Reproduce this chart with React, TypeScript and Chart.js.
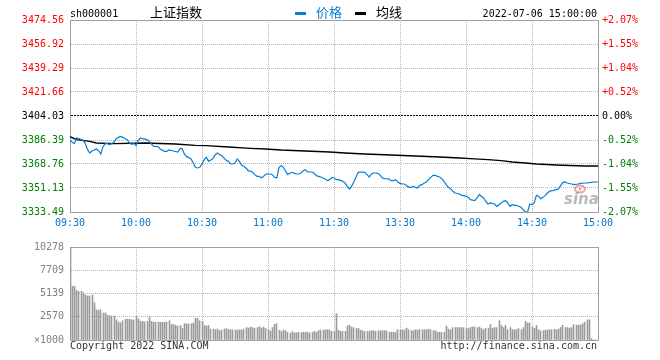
import { useEffect, useRef } from "react";
import { Chart, registerables } from "chart.js";
Chart.register(...registerables);

// ---------- data ----------
const priceTicks = [3333.49, 3351.13, 3368.76, 3386.39, 3404.03, 3421.66, 3439.29, 3456.92, 3474.56];
const pctLabels = ["-2.07%", "-1.55%", "-1.04%", "-0.52%", "0.00%", "+0.52%", "+1.04%", "+1.55%", "+2.07%"];
const timeTicks = [0, 30, 60, 90, 120, 150, 180, 210, 240];
const timeLabels = ["09:30", "10:00", "10:30", "11:00", "11:30", "13:30", "14:00", "14:30", "15:00"];

const priceMinutes = [
  0, 2, 3, 4, 6, 7, 8, 9, 10, 12, 13, 14, 15, 16, 17, 18, 19, 20, 21, 22, 23, 24, 26, 27, 28, 29, 30, 31, 32, 33, 35, 36, 37, 38, 40,
  41, 43, 44, 45, 47, 49, 50, 51, 52, 53, 55, 56, 57, 58, 59, 60, 61, 62, 63, 65, 66, 67, 68, 69, 70, 71, 72, 73, 74, 75, 76, 77,
  78, 79, 80, 81, 83, 84, 85, 86, 87, 88, 89, 90, 91, 92, 93, 94, 95, 96, 97, 98, 99, 100, 101, 102, 103, 104, 105, 106, 107, 108,
  109, 110, 111, 112, 113, 114, 115, 116, 117, 118, 119, 120,
  121, 122, 123, 124, 125, 126, 127, 128, 129, 130, 131, 133, 134, 135, 136, 137, 138, 139, 140, 141, 142, 143, 145, 146, 147, 148,
  149, 150, 151, 152, 153, 154, 155, 156, 157, 158, 159, 160, 161, 162, 163, 164, 165, 166, 167, 168, 169, 170, 171, 172, 173, 174,
  175, 177, 178, 179, 180, 181, 182, 184, 185, 186, 187, 188, 189, 190, 191, 193, 194, 195, 196, 197, 198, 199, 200, 201, 202, 203,
  205, 206, 207, 208, 209, 210, 211, 212, 213, 214, 215, 216, 217, 218, 219, 220, 221, 222, 223, 224, 225, 226, 228, 229, 231, 232,
  234, 235, 237, 238, 240,
];
const priceValues = [
  3385.9, 3383.7, 3387.86, 3387.37, 3386.15, 3383.45, 3379.29, 3376.84, 3378.31, 3379.78, 3378.56, 3376.11, 3381.49, 3383.7, 3383.7,
  3382.96, 3383.7, 3384.92, 3387.37, 3388.35, 3389.08, 3388.35, 3386.64, 3384.19, 3383.21, 3383.94, 3382.23, 3386.15, 3387.86,
  3387.37, 3386.64, 3385.41, 3383.45, 3381.74, 3381.49, 3379.78, 3378.07, 3378.07, 3379.05, 3378.31, 3377.58, 3380.02, 3380.02,
  3376.11, 3374.15, 3372.68, 3369.5, 3366.31, 3365.82, 3366.31, 3368.76, 3371.94, 3373.66, 3370.72, 3372.68, 3375.62, 3376.84,
  3375.62, 3374.88, 3373.17, 3371.45, 3370.72, 3368.76, 3368.76, 3369.5, 3372.43, 3370.72, 3367.78, 3367.05, 3365.82, 3363.86,
  3362.88, 3360.93, 3359.7, 3359.7, 3358.48, 3359.7, 3361.42, 3361.42, 3361.42, 3360.93, 3358.97, 3358.48, 3366.31, 3367.54,
  3366.31, 3363.37, 3360.93, 3362.15, 3362.64, 3361.9, 3361.42, 3361.42, 3362.15, 3363.86, 3364.6, 3362.88, 3362.88, 3362.88,
  3361.9, 3360.19, 3359.7, 3359.21, 3358.48, 3357.74, 3356.52, 3357.25, 3358.97, 3358.48,
  3357.25, 3357.25, 3356.76, 3356.03, 3354.8, 3352.36, 3350.4, 3352.36, 3355.54, 3358.97, 3362.64, 3362.88, 3362.64, 3360.93,
  3359.21, 3361.42, 3362.15, 3362.15, 3361.9, 3360.44, 3358.48, 3357.99, 3357.74, 3356.52, 3356.52, 3357.25, 3355.54, 3354.56,
  3354.07, 3354.07, 3352.85, 3351.62, 3351.62, 3352.36, 3351.62, 3351.13, 3353.09, 3353.58, 3354.8, 3355.54, 3357.25, 3358.97,
  3360.44, 3360.44, 3359.7, 3359.21, 3357.99, 3356.03, 3353.58, 3351.62, 3350.64, 3348.68, 3347.46, 3346.72, 3345.74, 3345.5,
  3345.01, 3344.27, 3342.56, 3341.83, 3343.79, 3346.23, 3345.01, 3343.79, 3341.34, 3339.38, 3340.11, 3339.38, 3337.66, 3338.89,
  3340.11, 3341.34, 3341.83, 3340.11, 3337.66, 3338.89, 3338.4, 3338.4, 3336.93, 3335.22, 3333.5, 3333.5, 3339.38, 3338.89,
  3340.11, 3345.74, 3345.01, 3343.3, 3344.27, 3345.74, 3347.46, 3348.68, 3349.17, 3349.42, 3349.91, 3350.4, 3352.85, 3355.29,
  3355.54, 3354.8, 3354.07, 3353.58, 3354.07, 3354.56, 3354.8, 3354.8, 3355.29, 3355.54, 3355.54,
];

const avgMinutes = [0, 3, 9, 12, 20, 34, 48, 57, 62, 72, 82, 89, 96, 107, 118, 125, 134, 146, 157, 168, 177, 184, 190, 196, 201, 207, 212, 221, 234, 240];
const avgValues = [
  3388.84, 3386.64, 3385.41, 3384.19, 3383.7, 3384.19, 3383.45, 3382.47, 3382.23, 3381.25, 3380.27, 3379.78, 3379.05, 3378.31,
  3377.58, 3376.84, 3376.11, 3375.37, 3374.64, 3373.9, 3373.17, 3372.55, 3371.94, 3371.21, 3370.23, 3369.5, 3368.76, 3368.03,
  3367.29, 3367.29,
];

const volumes = [
  10278, 5927, 5927, 5482, 5379, 5379, 5208, 4968, 4865, 4865, 4968, 4111, 3323, 3323, 3323, 2981, 2981, 2741, 2672, 2672, 2638,
  2227, 1987, 1884, 2124, 2295, 2295, 2295, 2227, 2227, 2570, 2330, 2056, 2056, 1987, 2056, 2535, 2056, 1987, 1953, 1987, 1953,
  1953, 1953, 1987, 2124, 1713, 1713, 1610, 1542, 1610, 1268, 1816, 1782, 1782, 1782, 1884, 2398, 2398, 2124, 2056, 1610, 1542,
  1610, 1199, 1199, 1131, 1199, 1028, 1096, 1199, 1268, 1131, 1131, 1131, 1096, 1096, 1131, 1096, 1199, 1370, 1302, 1439, 1370,
  1302, 1370, 1473, 1302, 1439, 1268, 1199, 959, 1370, 1713, 1816, 1096, 925, 1096, 1028, 857, 754, 925, 788, 788, 857, 822, 857,
  857, 857, 788, 857, 959, 857, 1028, 1096, 1096, 1131, 1131, 1096, 959, 959, 2912, 1096, 959, 959, 959, 1542, 1645, 1439, 1370,
  1268, 1268, 1096, 1028, 959, 959, 959, 1028, 1028, 959, 1028, 1028, 1028, 1028, 1028, 857, 857, 857, 857, 1131, 1131, 1096,
  1096, 1302, 1131, 1028, 1028, 1131, 1096, 1131, 1131, 1131, 1131, 1199, 1131, 1028, 1028, 857, 857, 857, 857, 1542, 1199, 1096,
  1370, 1370, 1370, 1370, 1370, 1370, 1268, 1268, 1370, 1439, 1439, 1370, 1439, 1268, 1131, 1302, 1302, 1713, 1268, 1370, 1370,
  2124, 1610, 1370, 1610, 1131, 1370, 1131, 1131, 1131, 1268, 1131, 1370, 2056, 1884, 1884, 1439, 1302, 1610, 1131, 1028, 1028,
  1096, 1096, 1131, 1131, 1199, 1131, 1199, 1370, 1610, 1370, 1370, 1302, 1370, 1713, 1645, 1645, 1645, 1782, 1987, 2227, 2227,
  171, 0, 0, 0,
];
const volTicks = [0, 2570, 5139, 7709, 10278];
const volTickLabels = ["\u00d71000", "2570", "5139", "7709", "10278"];

// ---------- styles ----------
const MONO = '"DejaVu Sans Mono", "Liberation Mono", monospace';
const CJK = '"Noto Sans CJK SC", "Noto Sans", sans-serif';
const RED = "#ff0000";
const GREEN = "#008000";
const LINE_BLUE = "#0a7dd4";
const TEXT_BLUE = "#0876cc";
const AXIS = "#a0a0a0";
const GRID = "#b4b4b4";
const CLEAR = "rgba(0,0,0,0)";

const levelColor = (i: number) => (i < 4 ? GREEN : i === 4 ? "#000000" : RED);

const headerPlugin = {
  id: "header",
  beforeDatasetsDraw(chart: any) {
    const c = chart.ctx;
    c.save();
    // watermark
    c.globalAlpha = 0.5;
    c.strokeStyle = "#e04848";
    c.lineWidth = 2;
    c.beginPath();
    c.ellipse(580, 189, 5, 3.5, 0, 0, Math.PI * 2);
    c.stroke();
    c.fillStyle = "#e04848";
    c.beginPath();
    c.arc(580, 189, 1.5, 0, Math.PI * 2);
    c.fill();
    c.globalAlpha = 0.6;
    c.fillStyle = "#8a8a8a";
    c.font = 'italic bold 15px "DejaVu Sans", sans-serif';
    c.textAlign = "left";
    c.textBaseline = "alphabetic";
    c.fillText("sina", 564, 204);
    c.restore();
  },
  afterDraw(chart: any) {
    const c = chart.ctx;
    c.save();
    c.textBaseline = "alphabetic";
    c.textAlign = "left";
    c.fillStyle = "#000";
    c.font = `10px ${MONO}`;
    c.fillText("sh000001", 70, 17);
    c.font = `13px ${CJK}`;
    c.fillText("上证指数", 150, 17);
    c.fillStyle = LINE_BLUE;
    c.fillRect(295, 12, 11, 3);
    c.fillText("价格", 316, 17);
    c.fillStyle = "#000";
    c.fillRect(355, 12, 11, 3);
    c.fillText("均线", 376, 17);
    c.font = `10px ${MONO}`;
    c.textAlign = "right";
    c.fillText("2022-07-06 15:00:00", 597, 17);
    c.restore();
  },
};

const footerPlugin = {
  id: "footer",
  beforeDatasetsDraw(chart: any) {
    const meta = chart.getDatasetMeta(0);
    meta.data.forEach((el: any) => {
      el.x = Math.floor(el.x) + 0.5;
    });
  },
  afterDraw(chart: any) {
    const c = chart.ctx;
    c.save();
    c.textBaseline = "alphabetic";
    c.fillStyle = "#333";
    c.font = `10px ${MONO}`;
    c.textAlign = "left";
    c.fillText("Copyright 2022 SINA.COM", 70, 114);
    c.textAlign = "right";
    c.fillText("http://finance.sina.com.cn", 597, 114);
    c.restore();
  },
};

export default function App() {
  const mainRef = useRef<HTMLCanvasElement>(null);
  const volRef = useRef<HTMLCanvasElement>(null);

  useEffect(() => {
    const font = { family: MONO, size: 10 };
    const main = new Chart(mainRef.current!, {
      type: "line",
      data: {
        datasets: [
          {
            data: priceMinutes.map((m, i) => ({ x: m, y: priceValues[i] })),
            borderColor: LINE_BLUE,
            borderWidth: 1.2,
            pointRadius: 0,
            tension: 0,
            yAxisID: "y",
          },
          {
            data: avgMinutes.map((m, i) => ({ x: m, y: avgValues[i] })),
            borderColor: "#000000",
            borderWidth: 1.4,
            pointRadius: 0,
            tension: 0,
            yAxisID: "y",
          },
        ],
      },
      options: {
        animation: false,
        responsive: false,
        maintainAspectRatio: false,
        events: [],
        layout: { padding: { top: 20, left: 0, right: 0, bottom: 0 } },
        plugins: { legend: { display: false }, tooltip: { enabled: false } },
        scales: {
          x: {
            type: "linear",
            min: 0,
            max: 240,
            afterFit: (s: any) => {
              s.height = 23;
            },
            afterBuildTicks: (s: any) => {
              s.ticks = timeTicks.map((v) => ({ value: v }));
            },
            ticks: {
              autoSkip: false,
              maxRotation: 0,
              padding: 5,
              color: TEXT_BLUE,
              font,
              callback: (_v: any, i: number) => timeLabels[i],
            },
            grid: {
              drawTicks: false,
              lineWidth: 1,
              color: (ctx: any) => (ctx.index === 0 || ctx.index === 8 ? CLEAR : GRID),
            },
            border: { display: true, color: AXIS, width: 1, dash: [1, 1] },
          },
          y: {
            type: "linear",
            position: "left",
            min: priceTicks[0],
            max: priceTicks[8],
            afterFit: (s: any) => {
              s.width = 70;
            },
            afterBuildTicks: (s: any) => {
              s.ticks = priceTicks.map((v) => ({ value: v }));
            },
            ticks: {
              autoSkip: false,
              padding: 6,
              font,
              color: (ctx: any) => levelColor(ctx.index),
              callback: (_v: any, i: number) => priceTicks[i].toFixed(2),
            },
            grid: {
              drawTicks: false,
              lineWidth: 1,
              color: (ctx: any) =>
                ctx.index === 4 ? "#000000" : ctx.index === 8 ? AXIS : ctx.index === 0 ? CLEAR : GRID,
            },
            border: {
              display: true,
              color: AXIS,
              width: 1,
              dash: (ctx: any) => (ctx.index === 4 ? [2, 1] : ctx.index === 8 ? [] : [1, 1]),
            },
          },
          y1: {
            type: "linear",
            position: "right",
            min: priceTicks[0],
            max: priceTicks[8],
            afterFit: (s: any) => {
              s.width = 62;
            },
            afterBuildTicks: (s: any) => {
              s.ticks = priceTicks.map((v) => ({ value: v }));
            },
            ticks: {
              autoSkip: false,
              padding: 4,
              font,
              color: (ctx: any) => levelColor(ctx.index),
              callback: (_v: any, i: number) => pctLabels[i],
            },
            grid: { display: false, drawTicks: false },
            border: { display: true, color: AXIS, width: 1 },
          },
        },
      } as any,
      plugins: [headerPlugin],
    });

    const vol = new Chart(volRef.current!, {
      type: "bar",
      data: {
        datasets: [
          {
            data: volumes.map((v, i) => ({ x: i, y: v })),
            backgroundColor: "#9a9a9a",
            barThickness: 1,
            borderWidth: 0,
          },
        ],
      },
      options: {
        animation: false,
        responsive: false,
        maintainAspectRatio: false,
        events: [],
        layout: { padding: { top: 5, left: 0, right: 0, bottom: 0 } },
        plugins: { legend: { display: false }, tooltip: { enabled: false } },
        scales: {
          x: {
            type: "linear",
            min: 0,
            max: 240,
            offset: false,
            afterFit: (s: any) => {
              s.height = 20;
            },
            afterBuildTicks: (s: any) => {
              s.ticks = timeTicks.map((v) => ({ value: v }));
            },
            ticks: { display: false },
            grid: {
              drawTicks: false,
              offset: false,
              lineWidth: 1,
              color: (ctx: any) => (ctx.index === 0 || ctx.index === 8 ? CLEAR : GRID),
            },
            border: { display: true, color: AXIS, width: 1, dash: [1, 1] },
          },
          y: {
            type: "linear",
            position: "left",
            min: 0,
            max: 10278,
            afterFit: (s: any) => {
              s.width = 70;
            },
            afterBuildTicks: (s: any) => {
              s.ticks = volTicks.map((v) => ({ value: v }));
            },
            ticks: {
              autoSkip: false,
              padding: 6,
              font,
              color: "#808080",
              callback: (_v: any, i: number) => volTickLabels[i],
            },
            grid: {
              drawTicks: false,
              lineWidth: 1,
              color: (ctx: any) => (ctx.index === 0 ? CLEAR : ctx.index === 4 ? AXIS : GRID),
            },
            border: {
              display: true,
              color: AXIS,
              width: 1,
              dash: (ctx: any) => (ctx.index === 4 ? [] : [1, 1]),
            },
          },
          y1: {
            type: "linear",
            position: "right",
            min: 0,
            max: 10278,
            afterFit: (s: any) => {
              s.width = 62;
            },
            ticks: { display: false },
            grid: { display: false, drawTicks: false },
            border: { display: true, color: AXIS, width: 1 },
          },
        },
      } as any,
      plugins: [footerPlugin],
    });

    return () => {
      main.destroy();
      vol.destroy();
    };
  }, []);

  return (
    <div style={{ position: "absolute", left: 0, top: 0, width: 660, height: 360, background: "#fff" }}>
      <canvas ref={mainRef} width={660} height={235} style={{ position: "absolute", left: 0, top: 0, width: 660, height: 235 }} />
      <canvas ref={volRef} width={660} height={125} style={{ position: "absolute", left: 0, top: 235, width: 660, height: 125 }} />
    </div>
  );
}
